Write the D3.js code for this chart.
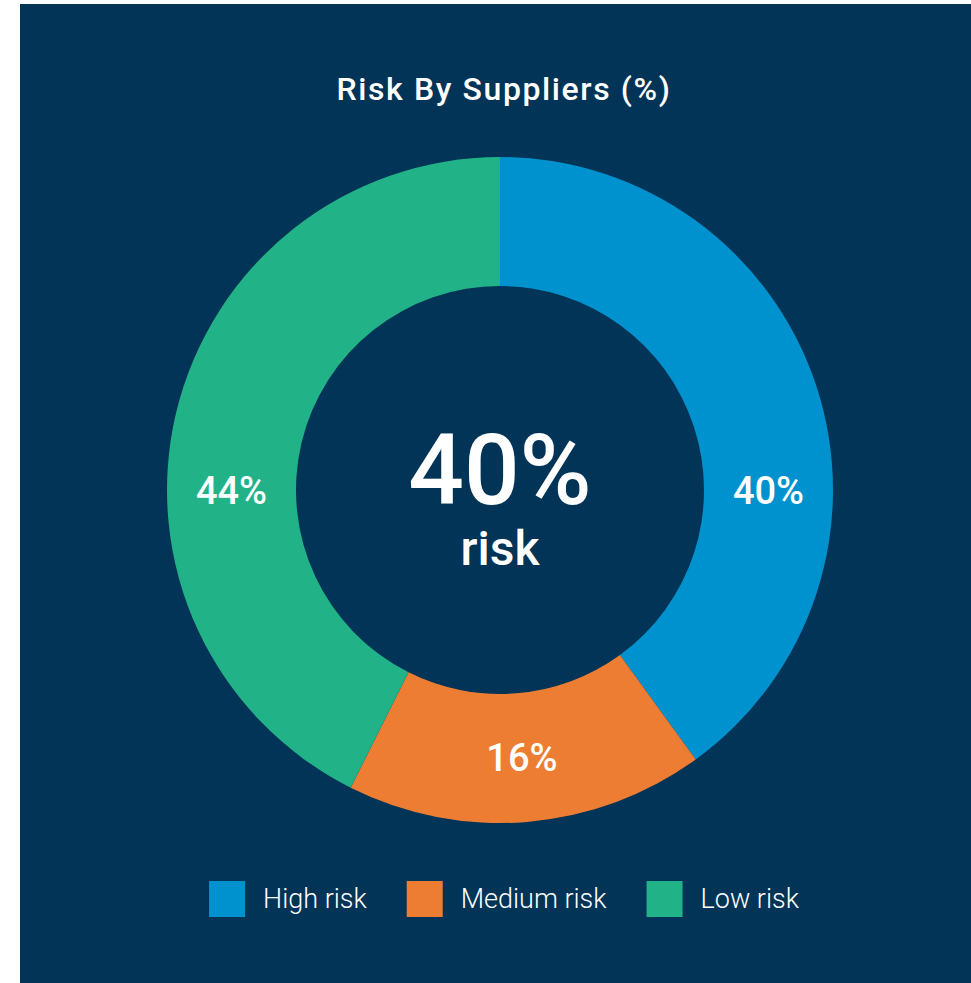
<!DOCTYPE html>
<html>
<head>
<meta charset="utf-8">
<script src="https://cdn.jsdelivr.net/npm/d3@7"></script>
<style>
    body { margin: 0; background: #ffffff; }
    svg { display: block; font-family: Roboto, "Noto Sans", sans-serif; }
</style>
</head>
<body>
<div id="chart"></div>
<script>
// chart data
const categories = ["High risk", "Medium risk", "Low risk"];
const shares = [40, 17.4, 42.6];          // arc sizes as drawn
const labels = ["40%", "16%", "44%"];      // printed slice labels
const colors = ["#0092ce", "#ed7d32", "#21b288"];
const centerValue = "40%";
const centerText = "risk";
const title = "Risk By Suppliers (%)";

const width = 971, height = 983;
const cx = 500, cy = 490;
const outerR = 333, innerR = 204;

const svg = d3.select("#chart").append("svg")
    .attr("width", width)
    .attr("height", height);

// navy panel
svg.append("rect")
    .attr("x", 20).attr("y", 4)
    .attr("width", width - 20).attr("height", height - 4)
    .attr("fill", "#013456");

svg.append("text")
    .attr("x", 504).attr("y", 100)
    .attr("text-anchor", "middle")
    .attr("fill", "#fff")
    .attr("font-size", 32)
    .attr("font-weight", 500)
    .attr("letter-spacing", 1.6)
    .text(title);

const pie = d3.pie().sort(null).value(d => d)(shares);
const arc = d3.arc().innerRadius(innerR).outerRadius(outerR);

const g = svg.append("g").attr("transform", `translate(${cx},${cy})`);

g.selectAll("path")
    .data(pie)
    .enter()
    .append("path")
    .attr("d", arc)
    .attr("fill", (d, i) => colors[i]);

// slice labels: on the horizontal axis when the slice crosses it, else centroid
const midR = (innerR + outerR) / 2;
function labelPos(d) {
    for (const a of [Math.PI / 2, 3 * Math.PI / 2]) {
        if (d.startAngle <= a && d.endAngle >= a) {
            return [midR * Math.sin(a), -midR * Math.cos(a)];
        }
    }
    return arc.centroid(d);
}

g.selectAll("text.slice")
    .data(pie)
    .enter()
    .append("text")
    .attr("class", "slice")
    .attr("transform", d => `translate(${labelPos(d)})`)
    .attr("text-anchor", "middle")
    .attr("dy", "0.36em")
    .attr("fill", "#fff")
    .attr("font-size", 38)
    .attr("font-weight", 500)
    .text((d, i) => labels[i]);

// centre text
g.append("text")
    .attr("y", 14)
    .attr("text-anchor", "middle")
    .attr("fill", "#fff")
    .attr("font-size", 98)
    .attr("font-weight", 500)
    .text(centerValue);

g.append("text")
    .attr("y", 75)
    .attr("text-anchor", "middle")
    .attr("fill", "#fff")
    .attr("font-size", 48)
    .attr("font-weight", 500)
    .text(centerText);

// legend
const legend = svg.append("g");
const box = 36, gapText = 18, gapItem = 40;
let x = 0;
categories.forEach((c, i) => {
    const item = legend.append("g").attr("transform", `translate(${x},0)`);
    item.append("rect")
        .attr("width", box).attr("height", box)
        .attr("fill", colors[i]);
    const t = item.append("text")
        .attr("x", box + gapText)
        .attr("y", box / 2)
        .attr("dy", "0.35em")
        .attr("fill", "#fff")
        .attr("font-size", 27)
        .attr("font-weight", 300)
        .text(c);
    x += box + gapText + t.node().getComputedTextLength() + gapItem;
});
const legendW = x - gapItem;
legend.attr("transform", `translate(${504 - legendW / 2},881)`);
</script>
</body>
</html>
